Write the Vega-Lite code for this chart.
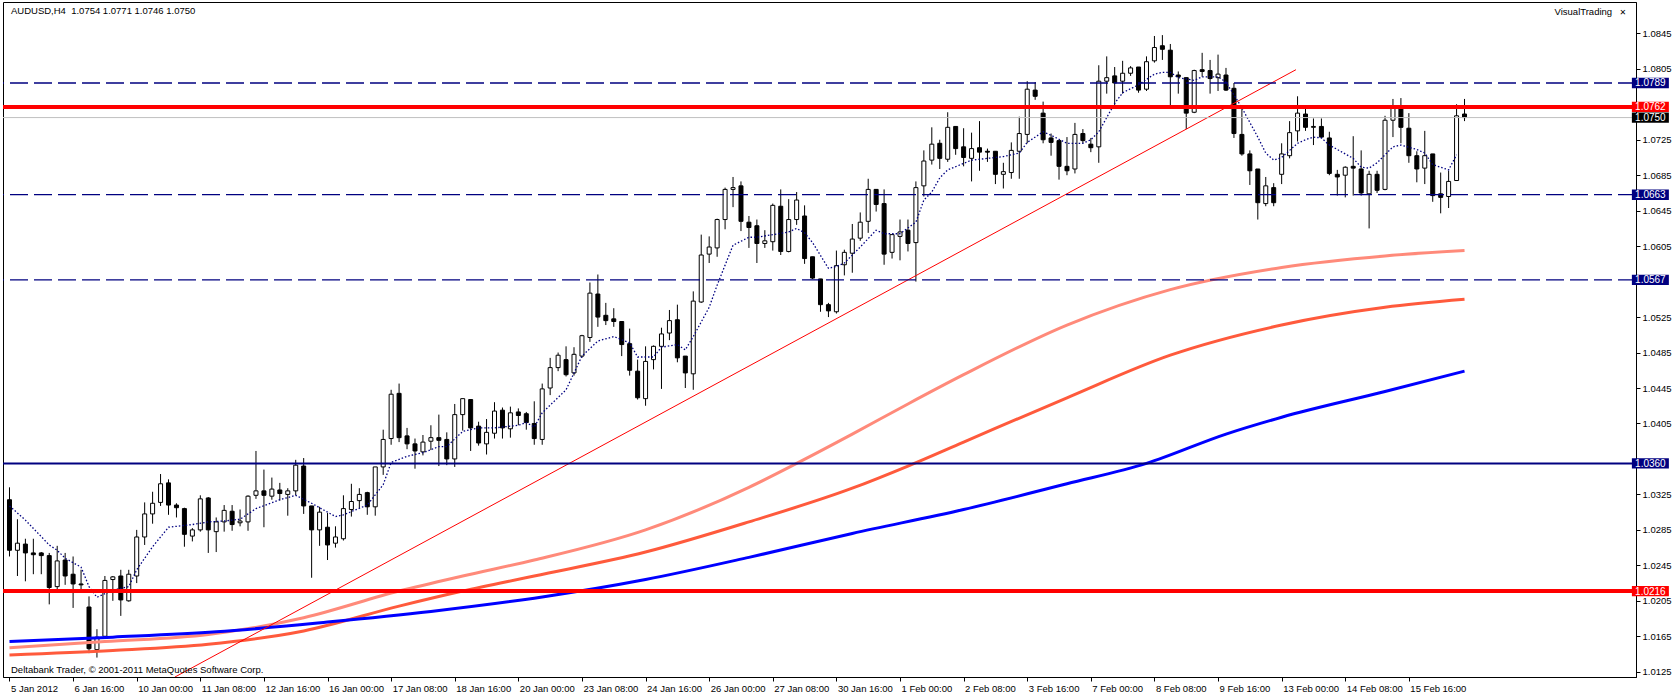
{
 "$schema": "https://vega.github.io/schema/vega-lite/v6.json",
 "width": 1633, "height": 675,
 "autosize": {"type": "none"},
 "padding": {"left": 3, "top": 2, "right": 38, "bottom": 17},
 "background": "white",
 "config": {"view": {"stroke": "black", "strokeWidth": 1}, "font": "Liberation Sans", "axis": {"grid": false, "labelOverlap": false}},
 "datasets": {
  "candles": [
   {"i":0,"o":1.0319,"h":1.0333,"l":1.0255,"c":1.0262},{"i":1,"o":1.0262,"h":1.0297,"l":1.0233,"c":1.0270},{"i":2,"o":1.0269,"h":1.0275,"l":1.0227,"c":1.0259},{"i":3,"o":1.0259,"h":1.0275,"l":1.0235,"c":1.0257},{"i":4,"o":1.0259,"h":1.0260,"l":1.0235,"c":1.0256},{"i":5,"o":1.0256,"h":1.0259,"l":1.0201,"c":1.0220},{"i":6,"o":1.0221,"h":1.0267,"l":1.0218,"c":1.0250},{"i":7,"o":1.0251,"h":1.0259,"l":1.0223,"c":1.0233},{"i":8,"o":1.0235,"h":1.0255,"l":1.0197,"c":1.0224},{"i":9,"o":1.0224,"h":1.0240,"l":1.0217,"c":1.0223},
   {"i":10,"o":1.0198,"h":1.0210,"l":1.0146,"c":1.0151},{"i":11,"o":1.0150,"h":1.0173,"l":1.0141,"c":1.0164},{"i":12,"o":1.0165,"h":1.0233,"l":1.0164,"c":1.0228},{"i":13,"o":1.0229,"h":1.0233,"l":1.0205,"c":1.0232},{"i":14,"o":1.0233,"h":1.0240,"l":1.0188,"c":1.0206},{"i":15,"o":1.0205,"h":1.0240,"l":1.0204,"c":1.0235},{"i":16,"o":1.0233,"h":1.0285,"l":1.0225,"c":1.0277},{"i":17,"o":1.0277,"h":1.0316,"l":1.0268,"c":1.0303},{"i":18,"o":1.0303,"h":1.0328,"l":1.0292,"c":1.0315},{"i":19,"o":1.0316,"h":1.0348,"l":1.0312,"c":1.0337},
   {"i":20,"o":1.0338,"h":1.0342,"l":1.0302,"c":1.0313},{"i":21,"o":1.0313,"h":1.0315,"l":1.0299,"c":1.0310},{"i":22,"o":1.0309,"h":1.0310,"l":1.0266,"c":1.0280},{"i":23,"o":1.0278,"h":1.0287,"l":1.0272,"c":1.0285},{"i":24,"o":1.0285,"h":1.0324,"l":1.0283,"c":1.0320},{"i":25,"o":1.0321,"h":1.0322,"l":1.0259,"c":1.0285},{"i":26,"o":1.0283,"h":1.0299,"l":1.0260,"c":1.0294},{"i":27,"o":1.0294,"h":1.0313,"l":1.0283,"c":1.0307},{"i":28,"o":1.0306,"h":1.0313,"l":1.0284,"c":1.0291},{"i":29,"o":1.0293,"h":1.0308,"l":1.0289,"c":1.0295},
   {"i":30,"o":1.0294,"h":1.0324,"l":1.0284,"c":1.0323},{"i":31,"o":1.0324,"h":1.0374,"l":1.0320,"c":1.0329},{"i":32,"o":1.0329,"h":1.0353,"l":1.0288,"c":1.0324},{"i":33,"o":1.0323,"h":1.0344,"l":1.0319,"c":1.0331},{"i":34,"o":1.0330,"h":1.0338,"l":1.0318,"c":1.0326},{"i":35,"o":1.0325,"h":1.0332,"l":1.0301,"c":1.0329},{"i":36,"o":1.0329,"h":1.0364,"l":1.0324,"c":1.0358},{"i":37,"o":1.0357,"h":1.0366,"l":1.0303,"c":1.0312},{"i":38,"o":1.0312,"h":1.0312,"l":1.0231,"c":1.0285},{"i":39,"o":1.0285,"h":1.0311,"l":1.0267,"c":1.0305},
   {"i":40,"o":1.0288,"h":1.0304,"l":1.0251,"c":1.0268},{"i":41,"o":1.0270,"h":1.0289,"l":1.0265,"c":1.0277},{"i":42,"o":1.0275,"h":1.0324,"l":1.0273,"c":1.0309},{"i":43,"o":1.0308,"h":1.0337,"l":1.0300,"c":1.0317},{"i":44,"o":1.0318,"h":1.0332,"l":1.0309,"c":1.0325},{"i":45,"o":1.0327,"h":1.0328,"l":1.0302,"c":1.0311},{"i":46,"o":1.0311,"h":1.0356,"l":1.0301,"c":1.0356},{"i":47,"o":1.0356,"h":1.0398,"l":1.0347,"c":1.0387},{"i":48,"o":1.0388,"h":1.0443,"l":1.0381,"c":1.0438},{"i":49,"o":1.0439,"h":1.0450,"l":1.0384,"c":1.0389},
   {"i":50,"o":1.0391,"h":1.0400,"l":1.0376,"c":1.0382},{"i":51,"o":1.0382,"h":1.0388,"l":1.0354,"c":1.0374},{"i":52,"o":1.0373,"h":1.0392,"l":1.0369,"c":1.0384},{"i":53,"o":1.0385,"h":1.0403,"l":1.0375,"c":1.0389},{"i":54,"o":1.0389,"h":1.0415,"l":1.0357,"c":1.0386},{"i":55,"o":1.0387,"h":1.0395,"l":1.0358,"c":1.0365},{"i":56,"o":1.0365,"h":1.0427,"l":1.0356,"c":1.0415},{"i":57,"o":1.0415,"h":1.0433,"l":1.0397,"c":1.0433},{"i":58,"o":1.0432,"h":1.0432,"l":1.0374,"c":1.0400},{"i":59,"o":1.0402,"h":1.0407,"l":1.0380,"c":1.0383},
   {"i":60,"o":1.0382,"h":1.0410,"l":1.0370,"c":1.0395},{"i":61,"o":1.0394,"h":1.0429,"l":1.0388,"c":1.0419},{"i":62,"o":1.0420,"h":1.0423,"l":1.0388,"c":1.0400},{"i":63,"o":1.0399,"h":1.0424,"l":1.0389,"c":1.0417},{"i":64,"o":1.0418,"h":1.0422,"l":1.0403,"c":1.0414},{"i":65,"o":1.0416,"h":1.0418,"l":1.0398,"c":1.0406},{"i":66,"o":1.0405,"h":1.0430,"l":1.0381,"c":1.0388},{"i":67,"o":1.0387,"h":1.0450,"l":1.0381,"c":1.0444},{"i":68,"o":1.0445,"h":1.0479,"l":1.0437,"c":1.0468},{"i":69,"o":1.0468,"h":1.0485,"l":1.0464,"c":1.0482},
   {"i":70,"o":1.0477,"h":1.0492,"l":1.0458,"c":1.0460},{"i":71,"o":1.0462,"h":1.0491,"l":1.0459,"c":1.0483},{"i":72,"o":1.0481,"h":1.0505,"l":1.0479,"c":1.0504},{"i":73,"o":1.0502,"h":1.0564,"l":1.0497,"c":1.0552},{"i":74,"o":1.0551,"h":1.0573,"l":1.0514,"c":1.0525},{"i":75,"o":1.0527,"h":1.0541,"l":1.0516,"c":1.0521},{"i":76,"o":1.0523,"h":1.0535,"l":1.0514,"c":1.0520},{"i":77,"o":1.0520,"h":1.0520,"l":1.0481,"c":1.0494},{"i":78,"o":1.0495,"h":1.0512,"l":1.0459,"c":1.0465},{"i":79,"o":1.0464,"h":1.0477,"l":1.0432,"c":1.0434},
   {"i":80,"o":1.0433,"h":1.0492,"l":1.0425,"c":1.0475},{"i":81,"o":1.0477,"h":1.0493,"l":1.0466,"c":1.0492},{"i":82,"o":1.0492,"h":1.0513,"l":1.0444,"c":1.0506},{"i":83,"o":1.0507,"h":1.0533,"l":1.0499,"c":1.0521},{"i":84,"o":1.0522,"h":1.0539,"l":1.0474,"c":1.0479},{"i":85,"o":1.0481,"h":1.0481,"l":1.0445,"c":1.0462},{"i":86,"o":1.0461,"h":1.0554,"l":1.0443,"c":1.0543},{"i":87,"o":1.0542,"h":1.0618,"l":1.0541,"c":1.0595},{"i":88,"o":1.0596,"h":1.0616,"l":1.0586,"c":1.0604},{"i":89,"o":1.0603,"h":1.0636,"l":1.0593,"c":1.0635},
   {"i":90,"o":1.0635,"h":1.0671,"l":1.0624,"c":1.0669},{"i":91,"o":1.0669,"h":1.0683,"l":1.0649,"c":1.0671},{"i":92,"o":1.0673,"h":1.0678,"l":1.0622,"c":1.0633},{"i":93,"o":1.0632,"h":1.0639,"l":1.0603,"c":1.0626},{"i":94,"o":1.0628,"h":1.0635,"l":1.0586,"c":1.0608},{"i":95,"o":1.0608,"h":1.0623,"l":1.0603,"c":1.0611},{"i":96,"o":1.0610,"h":1.0653,"l":1.0600,"c":1.0651},{"i":97,"o":1.0650,"h":1.0669,"l":1.0595,"c":1.0599},{"i":98,"o":1.0599,"h":1.0658,"l":1.0598,"c":1.0635},{"i":99,"o":1.0635,"h":1.0666,"l":1.0629,"c":1.0657},
   {"i":100,"o":1.0639,"h":1.0651,"l":1.0585,"c":1.0591},{"i":101,"o":1.0593,"h":1.0593,"l":1.0568,"c":1.0569},{"i":102,"o":1.0568,"h":1.0568,"l":1.0531,"c":1.0539},{"i":103,"o":1.0539,"h":1.0541,"l":1.0525,"c":1.0532},{"i":104,"o":1.0531,"h":1.0600,"l":1.0529,"c":1.0583},{"i":105,"o":1.0584,"h":1.0601,"l":1.0572,"c":1.0598},{"i":106,"o":1.0597,"h":1.0630,"l":1.0575,"c":1.0613},{"i":107,"o":1.0614,"h":1.0643,"l":1.0611,"c":1.0632},{"i":108,"o":1.0633,"h":1.0681,"l":1.0620,"c":1.0669},{"i":109,"o":1.0669,"h":1.0669,"l":1.0644,"c":1.0652},
   {"i":110,"o":1.0653,"h":1.0669,"l":1.0584,"c":1.0596},{"i":111,"o":1.0598,"h":1.0618,"l":1.0591,"c":1.0618},{"i":112,"o":1.0616,"h":1.0635,"l":1.0589,"c":1.0621},{"i":113,"o":1.0623,"h":1.0635,"l":1.0599,"c":1.0608},{"i":114,"o":1.0609,"h":1.0678,"l":1.0565,"c":1.0671},{"i":115,"o":1.0673,"h":1.0713,"l":1.0661,"c":1.0701},{"i":116,"o":1.0702,"h":1.0739,"l":1.0697,"c":1.0720},{"i":117,"o":1.0721,"h":1.0725,"l":1.0692,"c":1.0704},{"i":118,"o":1.0703,"h":1.0756,"l":1.0700,"c":1.0739},{"i":119,"o":1.0740,"h":1.0740,"l":1.0708,"c":1.0715},
   {"i":120,"o":1.0717,"h":1.0738,"l":1.0695,"c":1.0705},{"i":121,"o":1.0704,"h":1.0733,"l":1.0678,"c":1.0715},{"i":122,"o":1.0716,"h":1.0746,"l":1.0690,"c":1.0711},{"i":123,"o":1.0712,"h":1.0715,"l":1.0700,"c":1.0711},{"i":124,"o":1.0712,"h":1.0712,"l":1.0675,"c":1.0686},{"i":125,"o":1.0686,"h":1.0699,"l":1.0670,"c":1.0689},{"i":126,"o":1.0688,"h":1.0722,"l":1.0681,"c":1.0713},{"i":127,"o":1.0712,"h":1.0751,"l":1.0681,"c":1.0732},{"i":128,"o":1.0731,"h":1.0791,"l":1.0721,"c":1.0782},{"i":129,"o":1.0781,"h":1.0790,"l":1.0770,"c":1.0774},
   {"i":130,"o":1.0755,"h":1.0768,"l":1.0721,"c":1.0725},{"i":131,"o":1.0727,"h":1.0732,"l":1.0707,"c":1.0722},{"i":132,"o":1.0724,"h":1.0724,"l":1.0680,"c":1.0695},{"i":133,"o":1.0695,"h":1.0728,"l":1.0685,"c":1.0690},{"i":134,"o":1.0692,"h":1.0744,"l":1.0687,"c":1.0731},{"i":135,"o":1.0732,"h":1.0737,"l":1.0721,"c":1.0724},{"i":136,"o":1.0720,"h":1.0727,"l":1.0711,"c":1.0716},{"i":137,"o":1.0717,"h":1.0809,"l":1.0699,"c":1.0791},{"i":138,"o":1.0791,"h":1.0819,"l":1.0777,"c":1.0795},{"i":139,"o":1.0797,"h":1.0807,"l":1.0763,"c":1.0789},
   {"i":140,"o":1.0791,"h":1.0814,"l":1.0777,"c":1.0800},{"i":141,"o":1.0800,"h":1.0808,"l":1.0797,"c":1.0806},{"i":142,"o":1.0807,"h":1.0807,"l":1.0778,"c":1.0781},{"i":143,"o":1.0782,"h":1.0819,"l":1.0780,"c":1.0813},{"i":144,"o":1.0814,"h":1.0842,"l":1.0812,"c":1.0829},{"i":145,"o":1.0831,"h":1.0843,"l":1.0815,"c":1.0827},{"i":146,"o":1.0826,"h":1.0833,"l":1.0764,"c":1.0796},{"i":147,"o":1.0798,"h":1.0802,"l":1.0777,"c":1.0796},{"i":148,"o":1.0795,"h":1.0795,"l":1.0737,"c":1.0755},{"i":149,"o":1.0756,"h":1.0804,"l":1.0755,"c":1.0803},
   {"i":150,"o":1.0804,"h":1.0823,"l":1.0796,"c":1.0802},{"i":151,"o":1.0803,"h":1.0815,"l":1.0777,"c":1.0794},{"i":152,"o":1.0795,"h":1.0821,"l":1.0780,"c":1.0799},{"i":153,"o":1.0798,"h":1.0806,"l":1.0780,"c":1.0781},{"i":154,"o":1.0783,"h":1.0789,"l":1.0727,"c":1.0732},{"i":155,"o":1.0731,"h":1.0764,"l":1.0707,"c":1.0709},{"i":156,"o":1.0709,"h":1.0713,"l":1.0674,"c":1.0690},{"i":157,"o":1.0692,"h":1.0692,"l":1.0635,"c":1.0654},{"i":158,"o":1.0653,"h":1.0683,"l":1.0650,"c":1.0673},{"i":159,"o":1.0671,"h":1.0676,"l":1.0650,"c":1.0654},
   {"i":160,"o":1.0686,"h":1.0721,"l":1.0675,"c":1.0709},{"i":161,"o":1.0707,"h":1.0746,"l":1.0704,"c":1.0733},{"i":162,"o":1.0735,"h":1.0774,"l":1.0723,"c":1.0755},{"i":163,"o":1.0754,"h":1.0764,"l":1.0735,"c":1.0739},{"i":164,"o":1.0739,"h":1.0749,"l":1.0719,"c":1.0740},{"i":165,"o":1.0740,"h":1.0749,"l":1.0727,"c":1.0728},{"i":166,"o":1.0727,"h":1.0734,"l":1.0685,"c":1.0687},{"i":167,"o":1.0686,"h":1.0691,"l":1.0662,"c":1.0683},{"i":168,"o":1.0685,"h":1.0695,"l":1.0660,"c":1.0694},{"i":169,"o":1.0695,"h":1.0729,"l":1.0662,"c":1.0693},
   {"i":170,"o":1.0692,"h":1.0713,"l":1.0662,"c":1.0665},{"i":171,"o":1.0664,"h":1.0690,"l":1.0625,"c":1.0686},{"i":172,"o":1.0686,"h":1.0690,"l":1.0665,"c":1.0668},{"i":173,"o":1.0669,"h":1.0752,"l":1.0668,"c":1.0747},{"i":174,"o":1.0747,"h":1.0771,"l":1.0728,"c":1.0762},{"i":175,"o":1.0763,"h":1.0772,"l":1.0721,"c":1.0739},{"i":176,"o":1.0738,"h":1.0755,"l":1.0699,"c":1.0707},{"i":177,"o":1.0707,"h":1.0712,"l":1.0677,"c":1.0692},{"i":178,"o":1.0693,"h":1.0735,"l":1.0675,"c":1.0707},{"i":179,"o":1.0709,"h":1.0709,"l":1.0655,"c":1.0662},
   {"i":180,"o":1.0664,"h":1.0688,"l":1.0642,"c":1.0660},{"i":181,"o":1.0661,"h":1.0690,"l":1.0648,"c":1.0678},{"i":182,"o":1.0679,"h":1.0765,"l":1.0679,"c":1.0752},{"i":183,"o":1.0754,"h":1.0771,"l":1.0746,"c":1.0750}
  ],
  "fast": [
   {"i":0,"v":1.0312},{"i":2,"v":1.0296},{"i":5,"v":1.0268},{"i":6,"v":1.0262},{"i":7,"v":1.0253},{"i":9,"v":1.0243},{"i":10,"v":1.0221},{"i":11,"v":1.0209},{"i":13,"v":1.0217},{"i":15,"v":1.0221},{"i":16,"v":1.0240},{"i":18,"v":1.0266},{"i":20,"v":1.0288},{"i":23,"v":1.0291},{"i":25,"v":1.0294},{"i":27,"v":1.0295},{"i":29,"v":1.0297},{"i":31,"v":1.0309},{"i":34,"v":1.0319},{"i":36,"v":1.0324},{"i":38,"v":1.0315},{"i":40,"v":1.0305},{"i":41,"v":1.0300},{"i":42,"v":1.0302},{"i":45,"v":1.0313},{"i":47,"v":1.0336},{"i":48,"v":1.0361},{"i":50,"v":1.0368},{"i":52,"v":1.0372},{"i":54,"v":1.0379},{"i":55,"v":1.0379},{"i":57,"v":1.0396},{"i":59,"v":1.0400},{"i":61,"v":1.0400},{"i":64,"v":1.0403},{"i":65,"v":1.0406},{"i":66,"v":1.0401},{"i":67,"v":1.0417},{"i":70,"v":1.0443},{"i":72,"v":1.0481},{"i":74,"v":1.0498},{"i":76,"v":1.0503},{"i":78,"v":1.0496},{"i":79,"v":1.0480},{"i":81,"v":1.0480},{"i":82,"v":1.0491},{"i":84,"v":1.0494},{"i":85,"v":1.0488},{"i":86,"v":1.0503},{"i":88,"v":1.0536},{"i":89,"v":1.0561},{"i":91,"v":1.0606},{"i":93,"v":1.0615},{"i":94,"v":1.0615},{"i":96,"v":1.0618},{"i":98,"v":1.0621},{"i":99,"v":1.0625},{"i":100,"v":1.0620},{"i":101,"v":1.0609},{"i":103,"v":1.0580},{"i":104,"v":1.0582},{"i":105,"v":1.0586},{"i":107,"v":1.0604},{"i":109,"v":1.0623},{"i":110,"v":1.0619},{"i":112,"v":1.0619},{"i":114,"v":1.0632},{"i":115,"v":1.0657},{"i":116,"v":1.0666},{"i":117,"v":1.0682},{"i":118,"v":1.0691},{"i":121,"v":1.0702},{"i":123,"v":1.0704},{"i":125,"v":1.0706},{"i":127,"v":1.0710},{"i":128,"v":1.0722},{"i":130,"v":1.0734},{"i":131,"v":1.0730},{"i":133,"v":1.0721},{"i":135,"v":1.0721},{"i":136,"v":1.0725},{"i":137,"v":1.0734},{"i":139,"v":1.0766},{"i":140,"v":1.0778},{"i":142,"v":1.0787},{"i":144,"v":1.0799},{"i":145,"v":1.0801},{"i":146,"v":1.0801},{"i":147,"v":1.0795},{"i":149,"v":1.0792},{"i":150,"v":1.0796},{"i":152,"v":1.0796},{"i":153,"v":1.0790},{"i":155,"v":1.0761},{"i":157,"v":1.0728},{"i":158,"v":1.0710},{"i":159,"v":1.0702},{"i":160,"v":1.0705},{"i":162,"v":1.0721},{"i":163,"v":1.0725},{"i":164,"v":1.0728},{"i":165,"v":1.0727},{"i":166,"v":1.0719},{"i":167,"v":1.0714},{"i":169,"v":1.0704},{"i":170,"v":1.0694},{"i":171,"v":1.0693},{"i":172,"v":1.0699},{"i":174,"v":1.0717},{"i":175,"v":1.0719},{"i":177,"v":1.0714},{"i":178,"v":1.0710},{"i":179,"v":1.0697},{"i":181,"v":1.0691},{"i":182,"v":1.0708}
  ],
  "blue": [{"i":0,"v":1.0159},{"i":13,"v":1.0164},{"i":26,"v":1.0170},{"i":40,"v":1.0181},{"i":53,"v":1.0193},{"i":66,"v":1.0208},{"i":80,"v":1.0229},{"i":93,"v":1.0254},{"i":106,"v":1.0281},{"i":120,"v":1.0308},{"i":133,"v":1.0337},{"i":143,"v":1.0360},{"i":153,"v":1.0393},{"i":160,"v":1.0412},{"i":173,"v":1.0441},{"i":183,"v":1.0464}],
  "salmon": [{"i":0,"v":1.0152},{"i":12,"v":1.0159},{"i":25,"v":1.0167},{"i":37,"v":1.0186},{"i":49,"v":1.0216},{"i":57,"v":1.0233},{"i":66,"v":1.0251},{"i":80,"v":1.0285},{"i":93,"v":1.0333},{"i":99,"v":1.0360},{"i":106,"v":1.0393},{"i":113,"v":1.0427},{"i":120,"v":1.0460},{"i":133,"v":1.0516},{"i":146,"v":1.0556},{"i":160,"v":1.0581},{"i":173,"v":1.0594},{"i":183,"v":1.0600}],
  "tomato": [{"i":0,"v":1.0144},{"i":13,"v":1.0149},{"i":25,"v":1.0156},{"i":37,"v":1.0171},{"i":49,"v":1.0199},{"i":57,"v":1.0216},{"i":66,"v":1.0233},{"i":80,"v":1.0260},{"i":93,"v":1.0294},{"i":106,"v":1.0332},{"i":113,"v":1.0357},{"i":120,"v":1.0384},{"i":133,"v":1.0434},{"i":146,"v":1.0482},{"i":160,"v":1.0516},{"i":173,"v":1.0536},{"i":183,"v":1.0545}],
  "trend": [{"i":20.8,"v":1.0119},{"i":161.8,"v":1.0804}]
 },
 "layer": [
  {
   "data": {"name": "candles"},
   "mark": {"type": "rule", "color": "black", "strokeWidth": 1},
   "encoding": {
    "x": {"field": "i", "type": "quantitative", "title": null, "scale": {"domain": [-0.1875, 203.9375], "nice": false, "zero": false},
     "axis": {"orient": "bottom", "title": null, "grid": false, "tickCount": 60, "values": [0,8,16,24,32,40,48,56,64,72,80,88,96,104,112,120,128,136,144,152,160,168,176],
      "labelExpr": "['5 Jan 2012','6 Jan 16:00','10 Jan 00:00','11 Jan 08:00','12 Jan 16:00','16 Jan 00:00','17 Jan 08:00','18 Jan 16:00','20 Jan 00:00','23 Jan 08:00','24 Jan 16:00','26 Jan 00:00','27 Jan 08:00','30 Jan 16:00','1 Feb 00:00','2 Feb 08:00','3 Feb 16:00','7 Feb 00:00','8 Feb 08:00','9 Feb 16:00','13 Feb 00:00','14 Feb 08:00','15 Feb 16:00'][round(datum.value/8)]",
      "labelAlign": "left", "labelOffset": 1, "labelPadding": 2, "labelFontSize": 9.5, "labelColor": "black", "labelFont": "Liberation Sans",
      "tickSize": 4, "tickColor": "black", "domainColor": "black", "labelOverlap": false, "labelBound": false, "labelFlush": false}},
    "y": {"field": "l", "type": "quantitative", "title": null, "scale": {"domain": [1.011908, 1.088034], "nice": false, "zero": false},
     "axis": {"orient": "right", "title": null, "grid": false, "tickCount": 40, "values": [1.0125,1.0165,1.0205,1.0245,1.0285,1.0325,1.0365,1.0405,1.0445,1.0485,1.0525,1.0565,1.0605,1.0645,1.0685,1.0725,1.0765,1.0805,1.0845],
      "labelExpr": "indexof([1.0365,1.0565,1.0765], round(datum.value*10000)/10000) >= 0 ? '' : format(datum.value, '.4f')",
      "labelPadding": 2, "labelFontSize": 9.5, "labelColor": "black", "labelFont": "Liberation Sans", "tickSize": 4, "tickColor": "black", "domainColor": "black", "labelOverlap": false, "labelBound": false, "labelFlush": false}},
    "y2": {"field": "h"}
   }
  },
  {
   "data": {"name": "candles"},
   "mark": {"type": "bar", "size": 4, "stroke": "black", "strokeWidth": 1},
   "encoding": {
    "x": {"field": "i", "type": "quantitative", "title": null},
    "y": {"field": "o", "type": "quantitative", "title": null},
    "y2": {"field": "c"},
    "fill": {"condition": {"test": "datum.c < datum.o", "value": "black"}, "value": "white"}
   }
  },
  {
   "data": {"name": "salmon"},
   "mark": {"type": "line", "color": "#ff8a7a", "strokeWidth": 3, "clip": true, "interpolate": "monotone"},
   "encoding": {
    "x": {"field": "i", "type": "quantitative", "title": null},
    "y": {"field": "v", "type": "quantitative", "title": null}
   }
  },
  {
   "data": {"name": "tomato"},
   "mark": {"type": "line", "color": "#ff5a3c", "strokeWidth": 3, "clip": true, "interpolate": "monotone"},
   "encoding": {
    "x": {"field": "i", "type": "quantitative", "title": null},
    "y": {"field": "v", "type": "quantitative", "title": null}
   }
  },
  {
   "data": {"name": "blue"},
   "mark": {"type": "line", "color": "#0000ff", "strokeWidth": 3, "clip": true, "interpolate": "monotone"},
   "encoding": {
    "x": {"field": "i", "type": "quantitative", "title": null},
    "y": {"field": "v", "type": "quantitative", "title": null}
   }
  },
  {
   "data": {"name": "fast"},
   "mark": {"type": "line", "color": "#000080", "strokeWidth": 1.3, "strokeDash": [1.5, 2], "clip": true},
   "encoding": {
    "x": {"field": "i", "type": "quantitative", "title": null},
    "y": {"field": "v", "type": "quantitative", "title": null}
   }
  },
  {
   "data": {"name": "trend"},
   "mark": {"type": "line", "color": "#ff0000", "strokeWidth": 1, "clip": true},
   "encoding": {
    "x": {"field": "i", "type": "quantitative", "title": null},
    "y": {"field": "v", "type": "quantitative", "title": null}
   }
  },
  {
   "data": {"values": [{"price": 1.0750}]},
   "mark": {"type": "rule", "color": "#c0c0c0", "strokeWidth": 1},
   "encoding": {"y": {"field": "price", "type": "quantitative", "title": null}}
  },
  {
   "data": {"values": [{"price": 1.0789}, {"price": 1.0663}, {"price": 1.0567}]},
   "mark": {"type": "rule", "color": "#000080", "strokeWidth": 1.3, "strokeDash": [18, 6]},
   "encoding": {"y": {"field": "price", "type": "quantitative", "title": null}}
  },
  {
   "data": {"values": [{"price": 1.0360}]},
   "mark": {"type": "rule", "color": "#000080", "strokeWidth": 2},
   "encoding": {"y": {"field": "price", "type": "quantitative", "title": null}}
  },
  {
   "data": {"values": [{"price": 1.0762}, {"price": 1.0216}]},
   "mark": {"type": "rule", "color": "#ff0000", "strokeWidth": 4},
   "encoding": {"y": {"field": "price", "type": "quantitative", "title": null}}
  },
  {
   "data": {"values": [{"price": 1.0789}, {"price": 1.0663}, {"price": 1.0567}, {"price": 1.0360}]},
   "mark": {"type": "point", "shape": "M-1,-0.28H1V0.28H-1Z", "size": 1369, "filled": true, "fill": "#000080", "opacity": 1, "strokeWidth": 0, "clip": false},
   "encoding": {
    "x": {"datum": 206.375, "type": "quantitative", "title": null},
    "y": {"field": "price", "type": "quantitative", "title": null}
   }
  },
  {
   "data": {"values": [{"price": 1.0762}, {"price": 1.0216}]},
   "mark": {"type": "point", "shape": "M-1,-0.28H1V0.28H-1Z", "size": 1369, "filled": true, "fill": "#ff0000", "opacity": 1, "strokeWidth": 0, "clip": false},
   "encoding": {
    "x": {"datum": 206.375, "type": "quantitative", "title": null},
    "y": {"field": "price", "type": "quantitative", "title": null}
   }
  },
  {
   "data": {"values": [{"price": 1.0750}]},
   "mark": {"type": "point", "shape": "M-1,-0.28H1V0.28H-1Z", "size": 1369, "filled": true, "fill": "#000000", "opacity": 1, "strokeWidth": 0, "clip": false},
   "encoding": {
    "x": {"datum": 206.375, "type": "quantitative", "title": null},
    "y": {"field": "price", "type": "quantitative", "title": null}
   }
  },
  {
   "data": {"values": [{"price": 1.0789}, {"price": 1.0762}, {"price": 1.0750}, {"price": 1.0663}, {"price": 1.0567}, {"price": 1.0360}, {"price": 1.0216}]},
   "mark": {"type": "text", "color": "white", "fontSize": 10, "font": "Liberation Sans", "align": "center", "baseline": "middle", "dy": 0.5, "clip": false},
   "encoding": {
    "x": {"datum": 206.375, "type": "quantitative", "title": null},
    "y": {"field": "price", "type": "quantitative", "title": null},
    "text": {"field": "price", "type": "quantitative", "format": ".4f"}
   }
  },
  {
   "data": {"values": [{"t": "AUDUSD,H4\u00a0 1.0754 1.0771 1.0746 1.0750"}]},
   "mark": {"type": "text", "color": "black", "fontSize": 9.5, "font": "Liberation Sans", "align": "left", "baseline": "alphabetic", "dx": 3, "dy": 11.5},
   "encoding": {
    "x": {"datum": -0.1875, "type": "quantitative", "title": null},
    "y": {"datum": 1.088034, "type": "quantitative", "title": null},
    "text": {"field": "t"}
   }
  },
  {
   "data": {"values": [{"t": "VisualTrading"}]},
   "mark": {"type": "text", "color": "black", "fontSize": 9.5, "font": "Liberation Sans", "align": "right", "baseline": "alphabetic", "dy": 13},
   "encoding": {
    "x": {"datum": 201.56, "type": "quantitative", "title": null},
    "y": {"datum": 1.088034, "type": "quantitative", "title": null},
    "text": {"field": "t"}
   }
  },
  {
   "data": {"values": [{"t": "✕"}]},
   "mark": {"type": "text", "color": "black", "fontSize": 8, "fontWeight": "bold", "font": "DejaVu Sans", "align": "center", "baseline": "alphabetic", "dy": 13},
   "encoding": {
    "x": {"datum": 202.9, "type": "quantitative", "title": null},
    "y": {"datum": 1.088034, "type": "quantitative", "title": null},
    "text": {"field": "t"}
   }
  },
  {
   "data": {"values": [{"t": "Deltabank Trader, © 2001-2011 MetaQuotes Software Corp."}]},
   "mark": {"type": "text", "color": "black", "fontSize": 9.5, "font": "Liberation Sans", "align": "left", "baseline": "alphabetic", "dx": 3, "dy": -4},
   "encoding": {
    "x": {"datum": -0.1875, "type": "quantitative", "title": null},
    "y": {"datum": 1.011908, "type": "quantitative", "title": null},
    "text": {"field": "t"}
   }
  }
 ]
}
